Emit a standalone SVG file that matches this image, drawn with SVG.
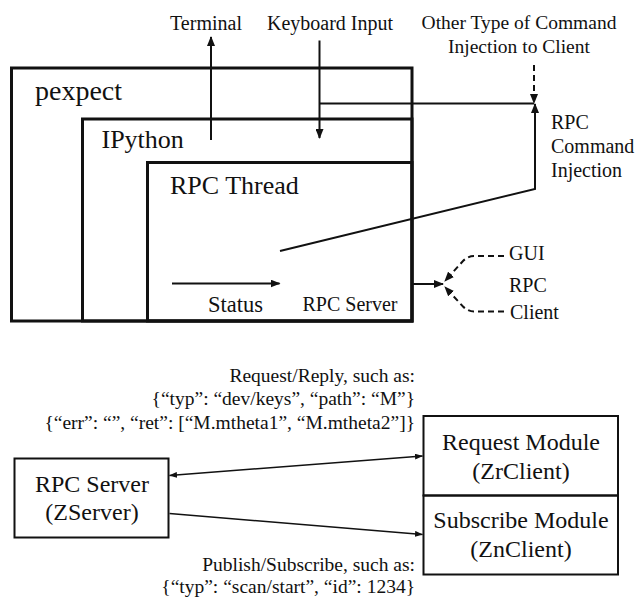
<svg xmlns="http://www.w3.org/2000/svg" width="636" height="602" viewBox="0 0 636 602" font-family="'Liberation Serif', 'DejaVu Serif', serif">
  <style>
    text { font-family: 'Liberation Serif', 'DejaVu Serif', serif; fill: #111; }
    .frame { fill: none; stroke: #111; stroke-width: 3; }
    .box { fill: none; stroke: #111; stroke-width: 2; }
    .line { fill: none; stroke: #111; stroke-width: 2; }
    .thin { fill: none; stroke: #111; stroke-width: 1.5; }
    .dash { fill: none; stroke: #111; stroke-width: 2; stroke-dasharray: 6 4; }
    .s20 { font-size: 20px; }
    .s19 { font-size: 19.5px; }
    .s24 { font-size: 24px; }
    .s26 { font-size: 26px; }
    .mid { text-anchor: middle; }
    .end { text-anchor: end; }
  </style>
  <defs>
    <marker id="arrow" markerUnits="userSpaceOnUse" markerWidth="10" markerHeight="8" refX="9" refY="4" orient="auto">
      <path d="M0,0 L10,4 L0,8 Z" fill="#111"/>
    </marker>
    <marker id="arrowSmall" markerUnits="userSpaceOnUse" markerWidth="8" markerHeight="6" refX="7.5" refY="3" orient="auto-start-reverse">
      <path d="M0,0 L8,3 L0,6 Z" fill="#111"/>
    </marker>
  </defs>

  <!-- nested process frames -->
  <g id="pexpect">
    <rect class="frame" x="11.5" y="68" width="400.5" height="253"/>
    <text x="35" y="100" style="font-size:28px">pexpect</text>
  </g>
  <g id="ipython">
    <rect class="frame" x="82.5" y="119" width="329.5" height="202"/>
    <text class="s26" x="101.5" y="148">IPython</text>
  </g>
  <g id="rpc-thread">
    <rect class="frame" x="147.5" y="162.5" width="264.5" height="158.5"/>
    <text class="s26" x="170" y="194">RPC Thread</text>
    <text x="208" y="311.5" style="font-size:22.5px">Status</text>
    <text class="s20" x="302.5" y="310.5">RPC Server</text>
  </g>

  <!-- outside labels -->
  <g id="terminal">
    <text class="s20 mid" x="206" y="30">Terminal</text>
  </g>
  <g id="keyboard">
    <text class="s20 mid" x="330" y="30">Keyboard Input</text>
  </g>
  <g id="other-injection">
    <text class="s19 mid" x="519" y="29">Other Type of Command</text>
    <text class="s19 mid" x="519" y="53">Injection to Client</text>
  </g>
  <g id="rpc-injection">
    <text class="s20" x="551" y="129">RPC</text>
    <text class="s20" x="551" y="153">Command</text>
    <text class="s20" x="551" y="177">Injection</text>
  </g>
  <g id="rpc-client">
    <text class="s20" x="509" y="260">GUI</text>
    <text class="s20" x="509" y="291.5">RPC</text>
    <text class="s20" x="510" y="319">Client</text>
  </g>

  <!-- lower part: server and client modules -->
  <g id="zserver">
    <rect class="box" x="14.5" y="458.5" width="154" height="79"/>
    <text class="s24 mid" x="92" y="491.5">RPC Server</text>
    <text class="s24 mid" x="92" y="520">(ZServer)</text>
  </g>
  <g id="zrclient">
    <rect class="box" x="423.5" y="416" width="194.5" height="79.5"/>
    <text class="s24 mid" x="521" y="450">Request Module</text>
    <text class="s24 mid" x="521" y="479">(ZrClient)</text>
  </g>
  <g id="znclient">
    <rect class="box" x="423.5" y="495.5" width="194.5" height="79"/>
    <text class="s24 mid" x="521" y="528">Subscribe Module</text>
    <text class="s24 mid" x="521" y="556.5">(ZnClient)</text>
  </g>
  <g id="req-label">
    <text class="s19 end" x="415" y="381.5">Request/Reply, such as:</text>
    <text class="s19 end" x="415" y="405">{“typ”: “dev/keys”, “path”: “M”}</text>
    <text class="s19 end" x="415" y="428.5">{“err”: “”, “ret”: [“M.mtheta1”, “M.mtheta2”]}</text>
  </g>
  <g id="pub-label">
    <text class="s19 end" x="415" y="570.5">Publish/Subscribe, such as:</text>
    <text class="s19 end" x="415" y="593">{“typ”: “scan/start”, “id”: 1234}</text>
  </g>

  <!-- connectors -->
  <g id="connectors">
    <line class="line" x1="211" y1="140" x2="211" y2="37" marker-end="url(#arrow)"/>
    <line class="line" x1="319.5" y1="40.5" x2="319.5" y2="138" marker-end="url(#arrow)"/>
    <line class="line" x1="319.5" y1="103.5" x2="534" y2="103.5"/>
    <line class="dash" x1="534" y1="65" x2="534" y2="103" marker-end="url(#arrow)"/>
    <polyline class="line" points="280,251 535,189 535,104" marker-end="url(#arrow)"/>
    <line class="line" x1="172" y1="283.5" x2="279.5" y2="283.5" marker-end="url(#arrow)"/>
    <line class="line" x1="412" y1="284" x2="443" y2="284" marker-end="url(#arrow)"/>
    <path class="dash" d="M504,256 H474 Q468,256 463,261 L445,281" marker-end="url(#arrow)"/>
    <path class="dash" d="M504,311.5 H474 Q468,311.5 463,306.5 L445,287" marker-end="url(#arrow)"/>
    <line class="thin" x1="169.5" y1="475.5" x2="422.5" y2="456" marker-start="url(#arrowSmall)" marker-end="url(#arrowSmall)"/>
    <line class="thin" x1="169.5" y1="513.5" x2="422.5" y2="534.5" marker-end="url(#arrowSmall)"/>
  </g>
</svg>
